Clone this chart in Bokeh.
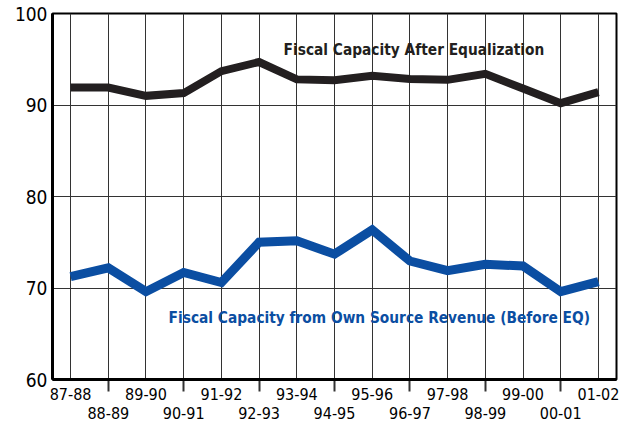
from bokeh.plotting import figure
from bokeh.models import FixedTicker, Label, Range1d
from bokeh.embed import file_html
from bokeh.resources import INLINE

years = ["87-88", "88-89", "89-90", "90-91", "91-92", "92-93", "93-94", "94-95",
         "95-96", "96-97", "97-98", "98-99", "99-00", "00-01", "01-02"]
after_eq = [91.9, 91.9, 91.0, 91.3, 93.7, 94.7, 92.8, 92.7, 93.2, 92.85, 92.75, 93.4, 91.8, 90.2, 91.4]
own_source = [71.25, 72.2, 69.6, 71.7, 70.6, 75.0, 75.15, 73.7, 76.35, 72.95, 71.9, 72.6, 72.4, 69.6, 70.7]
y_ticks = [60, 70, 80, 90, 100]

FONT = "'DejaVu Sans Condensed', 'Open Sans', sans-serif"
BLUE = "#0b4ea2"

idx = list(range(len(years)))
odd_idx = [i for i in idx if i % 2 == 1]

p = figure(width=624, height=422, frame_width=564, frame_height=366,
           min_border_left=52, min_border_right=8, min_border_top=13, min_border_bottom=43,
           x_range=Range1d(-0.48, len(years) - 1 + 0.48), y_range=Range1d(60, 100),
           output_backend="svg", toolbar_location=None)
p.background_fill_color = "white"
p.border_fill_color = "white"
p.outline_line_color = "black"
p.outline_line_width = 2

# x axis: labels alternate between two rows
p.xaxis.ticker = FixedTicker(ticks=idx, minor_ticks=odd_idx)
p.xaxis.major_label_overrides = {i: (years[i] if i % 2 == 0 else "\n" + years[i]) for i in idx}
p.xaxis.major_tick_out = 0
p.xaxis.major_tick_in = 0
p.xaxis.minor_tick_out = 12
p.xaxis.minor_tick_in = 0
p.xaxis.minor_tick_line_color = "black"
p.xaxis.minor_tick_line_width = 2
p.xaxis.minor_tick_line_alpha = 0.8
p.xaxis.axis_line_width = 3
p.xaxis.axis_line_color = "black"
p.xaxis.major_label_text_font = FONT
p.xaxis.major_label_text_font_size = "16px"
p.xaxis.major_label_text_line_height = 1.05
p.xaxis.major_label_text_color = "black"
p.xaxis.major_label_standoff = -7

p.yaxis.ticker = FixedTicker(ticks=y_ticks, minor_ticks=[])
p.yaxis.major_tick_out = 0
p.yaxis.major_tick_in = 0
p.yaxis.axis_line_width = 3
p.yaxis.axis_line_color = "black"
p.yaxis.major_label_text_font = FONT
p.yaxis.major_label_text_font_size = "19px"
p.yaxis.major_label_text_color = "black"
p.yaxis.major_label_standoff = 5

p.xgrid.ticker = FixedTicker(ticks=idx)
p.xgrid.grid_line_color = "#333333"
p.xgrid.grid_line_width = 1
p.ygrid.ticker = FixedTicker(ticks=[70, 80, 90])
p.ygrid.grid_line_color = "#333333"
p.ygrid.grid_line_width = 1

p.line(idx, after_eq, line_color="#231f20", line_width=8, line_join="miter")
p.line(idx, own_source, line_color=BLUE, line_width=9, line_join="miter")

p.add_layout(Label(x=5.65, y=96.0, text="Fiscal Capacity After Equalization",
                   text_font=FONT, text_font_size="15.3px", text_font_style="bold",
                   text_color="#231f20", text_baseline="middle", text_align="left"))
p.add_layout(Label(x=2.6, y=66.7, text="Fiscal Capacity from Own Source Revenue (Before EQ)",
                   text_font=FONT, text_font_size="15.3px", text_font_style="bold",
                   text_color=BLUE, text_baseline="middle", text_align="left"))

open("out.html", "w").write(file_html(p, INLINE))
